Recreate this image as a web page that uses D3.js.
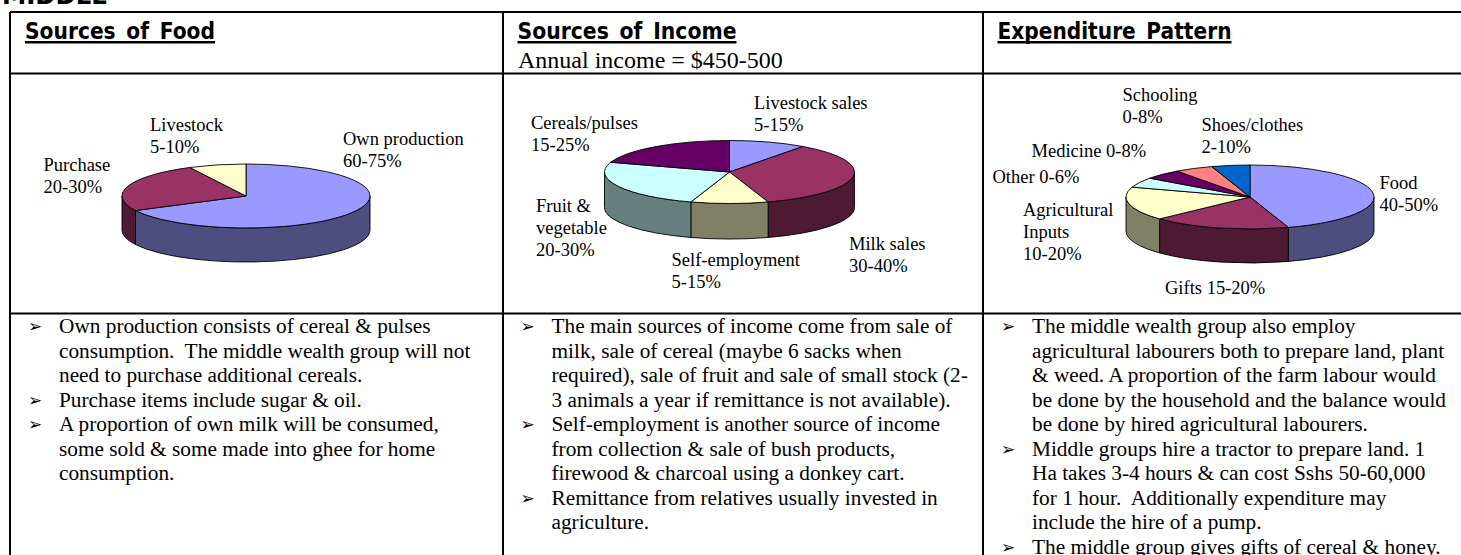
<!DOCTYPE html>
<html>
<head>
<meta charset="utf-8">
<script src="https://cdn.jsdelivr.net/npm/d3@7/dist/d3.min.js"></script>
<style>
  html, body { margin: 0; padding: 0; background: #fff; overflow: hidden; }
  svg { display: block; }
</style>
</head>
<body>
<svg id="sheet"></svg>
<script>
// Values (mid points of the printed ranges)
const foodCategories = ["Own production", "Purchase", "Livestock"];
const foodValues = [67.5, 25, 7.5];

const incomeCategories = ["Livestock sales", "Milk sales", "Self-employment", "Fruit & vegetable", "Cereals/pulses"];
const incomeValues = [10, 35, 10, 25, 20];

const spendCategories = ["Food", "Gifts", "Agricultural Inputs", "Other", "Medicine", "Schooling", "Shoes/clothes"];
const spendValues = [45, 18, 17, 5, 5, 5, 5];

const foodLabels = [["Own production", "60-75%"], ["Purchase", "20-30%"], ["Livestock", "5-10%"]];
const incomeLabels = [["Livestock sales", "5-15%"], ["Milk sales", "30-40%"], ["Self-employment", "5-15%"], ["Fruit &", "vegetable", "20-30%"], ["Cereals/pulses", "15-25%"]];
const spendLabels = [["Food", "40-50%"], ["Gifts 15-20%"], ["Agricultural", "Inputs", "10-20%"], ["Other 0-6%"], ["Medicine 0-8%"], ["Schooling", "0-8%"], ["Shoes/clothes", "2-10%"]];

const foodNotes = [
  ["Own production consists of cereal & pulses", "consumption.  The middle wealth group will not", "need to purchase additional cereals."],
  ["Purchase items include sugar & oil."],
  ["A proportion of own milk will be consumed,", "some sold & some made into ghee for home", "consumption."]
];
const incomeNotes = [
  ["The main sources of income come from sale of", "milk, sale of cereal (maybe 6 sacks when", "required), sale of fruit and sale of small stock (2-", "3 animals a year if remittance is not available)."],
  ["Self-employment is another source of income", "from collection & sale of bush products,", "firewood & charcoal using a donkey cart."],
  ["Remittance from relatives usually invested in", "agriculture."]
];
const spendNotes = [
  ["The middle wealth group also employ", "agricultural labourers both to prepare land, plant", "& weed. A proportion of the farm labour would", "be done by the household and the balance would", "be done by hired agricultural labourers."],
  ["Middle groups hire a tractor to prepare land. 1", "Ha takes 3-4 hours & can cost Sshs 50-60,000", "for 1 hour.  Additionally expenditure may", "include the hire of a pump."],
  ["The middle group gives gifts of cereal & honey."]
];

const width = 1461, height = 555;
const serif = "'Liberation Serif', 'Times New Roman', serif";
const titleFont = "'DejaVu Sans', sans-serif";

const foodColors = ["#9999ff", "#993366", "#ffffcc"];
const incomeColors = ["#9999ff", "#993366", "#ffffcc", "#ccffff", "#660066"];
const spendColors = ["#9999ff", "#993366", "#ffffcc", "#ccffff", "#660066", "#ff8080", "#0066cc"];

const svg = d3.select("#sheet").attr("width", width).attr("height", height);

// Table rules
const rules = [
  [10, 12, width, 12], [10, 73.5, width, 73.5], [10, 313.5, width, 313.5],
  [10, 12, 10, height], [503, 12, 503, height], [983, 12, 983, height]
];
svg.append("g").selectAll("line").data(rules).join("line")
    .attr("x1", d => d[0]).attr("y1", d => d[1])
    .attr("x2", d => d[2]).attr("y2", d => d[3])
    .attr("stroke", "#000").attr("stroke-width", 2);

// Headings, stretched to the widths of the original script face
function heading(text, x, y, w, size, underline) {
  svg.append("text")
      .attr("x", x).attr("y", y)
      .attr("textLength", w).attr("lengthAdjust", "spacingAndGlyphs")
      .style("font-family", titleFont).style("font-weight", "bold").style("font-size", size + "px")
      .style("word-spacing", "4px")
      .text(text);
  if (underline) {
    svg.append("line")
        .attr("x1", x).attr("x2", x + w).attr("y1", y + 3.3).attr("y2", y + 3.3)
        .attr("stroke", "#000").attr("stroke-width", 2.4);
  }
}
heading("MIDDLE", 2, 3.5, 106, 24, false);
heading("Sources of Food", 25, 39, 190, 22.5, true);
heading("Sources of Income", 517.5, 39, 219, 22.5, true);
heading("Expenditure Pattern", 997.5, 39, 234, 22.5, true);

svg.append("text")
    .attr("x", 518).attr("y", 67.5)
    .style("font-family", serif).style("font-size", "24px")
    .text("Annual income = $450-500");

/*
 * Draws a tilted pie: the top is a d3.arc squashed vertically, the wall is
 * the part of each slice that faces the viewer.
 */
function pie3d(cx, cy, rx, ry, depth, categories, values, colors) {
  const slices = d3.pie().sort(null)(values);
  const g = svg.append("g").attr("transform", `translate(${cx},${cy})`);
  const px = a => rx * Math.sin(a);
  const py = a => -ry * Math.cos(a);

  slices.forEach((s, i) => {
    const a0 = Math.max(s.startAngle, Math.PI / 2);
    const a1 = Math.min(s.endAngle, 3 * Math.PI / 2);
    if (a1 <= a0) return;
    const d = `M${px(a0)},${py(a0)}A${rx},${ry} 0 0 1 ${px(a1)},${py(a1)}` +
      `L${px(a1)},${py(a1) + depth}A${rx},${ry} 0 0 0 ${px(a0)},${py(a0) + depth}Z`;
    g.append("path")
        .attr("d", d)
        .attr("fill", d3.interpolateRgb(colors[i], "#000")(0.5))
        .attr("stroke", "#000").attr("stroke-width", 0.9)
        .attr("stroke-linejoin", "round");
  });

  const arc = d3.arc().innerRadius(0).outerRadius(rx);
  g.append("g")
      .attr("transform", `scale(1,${ry / rx})`)
      .selectAll("path").data(slices).join("path")
      .attr("d", arc)
      .attr("fill", (d, i) => colors[i])
      .attr("stroke", "#000").attr("stroke-width", 0.9)
      .attr("stroke-linejoin", "round")
      .attr("vector-effect", "non-scaling-stroke")
      .append("title").text((d, i) => categories[i]);
}

pie3d(246, 196, 124, 32, 34, foodCategories, foodValues, foodColors);
pie3d(729.5, 172, 125, 31.5, 35.5, incomeCategories, incomeValues, incomeColors);
pie3d(1250, 197, 124, 32, 34, spendCategories, spendValues, spendColors);

// Data labels, [x, first baseline] in the order of each label list
function pieLabels(labels, spots) {
  labels.forEach((lines, i) => {
    lines.forEach((line, j) => {
      svg.append("text")
          .attr("x", spots[i][0]).attr("y", spots[i][1] + j * 22)
          .style("font-family", serif).style("font-size", "18.5px")
          .text(line);
    });
  });
}
pieLabels(foodLabels, [[343, 145], [43.5, 170.5], [150, 131]]);
pieLabels(incomeLabels, [[754, 109], [849, 249.5], [671.5, 266], [536, 211.5], [531, 129]]);
pieLabels(spendLabels, [[1379.5, 188.5], [1165, 294], [1023, 216], [992.5, 182.7], [1031.5, 156.7], [1122.5, 101], [1201.5, 131]]);

// Bullet notes under each pie
function notes(list, x) {
  let row = 0;
  list.forEach(lines => {
    svg.append("text")
        .attr("x", x - 31).attr("y", 332 + row * 24.55)
        .style("font-family", "'DejaVu Sans', sans-serif").style("font-size", "17px")
        .text("\u27A2");
    lines.forEach(line => {
      svg.append("text")
          .attr("x", x).attr("y", 333 + row * 24.55)
          .style("white-space", "pre")
          .style("font-family", serif).style("font-size", "21.3px")
          .text(line);
      row++;
    });
  });
}
notes(foodNotes, 59);
notes(incomeNotes, 551.5);
notes(spendNotes, 1032);
</script>
</body>
</html>
